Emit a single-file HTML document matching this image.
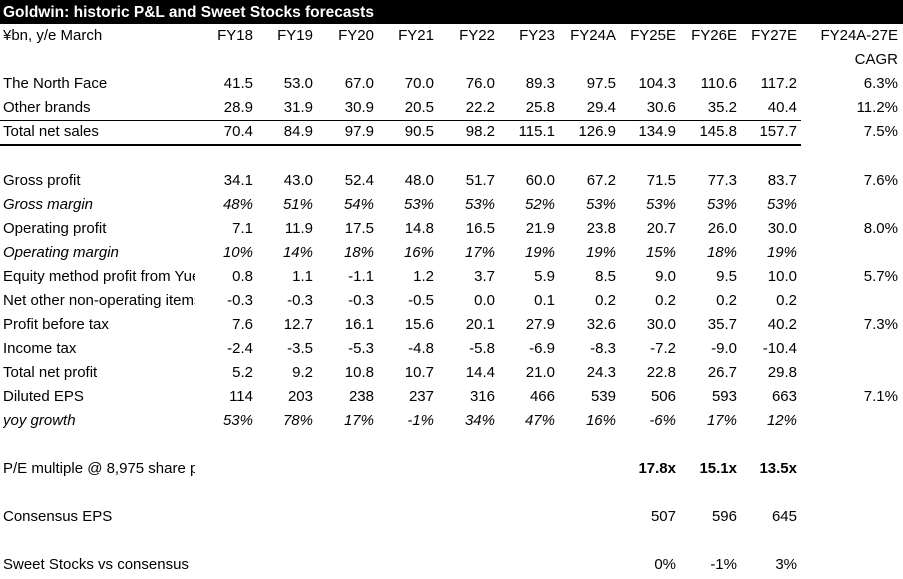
<!DOCTYPE html>
<html><head><meta charset="utf-8">
<style>
body{margin:0;width:903px;height:579px;background:#fff;font-family:"Liberation Sans",sans-serif;font-size:15px;color:#000;position:relative;overflow:hidden}
#title{position:absolute;left:0;top:0;width:903px;height:24px;background:#000;color:#fff;font-weight:bold;font-size:15.5px;line-height:25px;padding-left:3px;box-sizing:border-box}
.c{position:absolute;white-space:nowrap;line-height:18px}
.lab{left:3px;width:192px;overflow:hidden}
.it{font-style:italic}
.b{font-weight:bold}
.line{position:absolute;left:0;width:801px;background:#000}
</style></head><body>
<div id="title">Goldwin: historic P&amp;L and Sweet Stocks forecasts</div>
<div class="line" style="top:120px;height:1px"></div>
<div class="line" style="top:144px;height:2px"></div>
<div id="t"></div>
<script>
const colRight=[253,313,374,434,495,555,616,676,737,797,898];
const headers=["FY18","FY19","FY20","FY21","FY22","FY23","FY24A","FY25E","FY26E","FY27E","FY24A-27E"];
const rows=[
 [61,"","",[,,,,,,,,,,"CAGR"]],
 [85,"The North Face","",["41.5","53.0","67.0","70.0","76.0","89.3","97.5","104.3","110.6","117.2","6.3%"]],
 [109,"Other brands","",["28.9","31.9","30.9","20.5","22.2","25.8","29.4","30.6","35.2","40.4","11.2%"]],
 [133,"Total net sales","",["70.4","84.9","97.9","90.5","98.2","115.1","126.9","134.9","145.8","157.7","7.5%"]],
 [182,"Gross profit","",["34.1","43.0","52.4","48.0","51.7","60.0","67.2","71.5","77.3","83.7","7.6%"]],
 [206,"Gross margin","it",["48%","51%","54%","53%","53%","52%","53%","53%","53%","53%",""]],
 [230,"Operating profit","",["7.1","11.9","17.5","14.8","16.5","21.9","23.8","20.7","26.0","30.0","8.0%"]],
 [254,"Operating margin","it",["10%","14%","18%","16%","17%","19%","19%","15%","18%","19%",""]],
 [278,"Equity method profit from Yue Yuen","",["0.8","1.1","-1.1","1.2","3.7","5.9","8.5","9.0","9.5","10.0","5.7%"]],
 [302,"Net other non-operating items","",["-0.3","-0.3","-0.3","-0.5","0.0","0.1","0.2","0.2","0.2","0.2",""]],
 [326,"Profit before tax","",["7.6","12.7","16.1","15.6","20.1","27.9","32.6","30.0","35.7","40.2","7.3%"]],
 [350,"Income tax","",["-2.4","-3.5","-5.3","-4.8","-5.8","-6.9","-8.3","-7.2","-9.0","-10.4",""]],
 [374,"Total net profit","",["5.2","9.2","10.8","10.7","14.4","21.0","24.3","22.8","26.7","29.8",""]],
 [398,"Diluted EPS","",["114","203","238","237","316","466","539","506","593","663","7.1%"]],
 [422,"yoy growth","it",["53%","78%","17%","-1%","34%","47%","16%","-6%","17%","12%",""]],
 [470,"P/E multiple @ 8,975 share price","b",[,,,,,,,"17.8x","15.1x","13.5x",""]],
 [518,"Consensus EPS","",[,,,,,,,"507","596","645",""]],
 [566,"Sweet Stocks vs consensus","",[,,,,,,,"0%","-1%","3%",""]]
];
const t=document.getElementById('t');
function cell(txt,top,right,cls){
 const d=document.createElement('div');
 d.className='c '+(cls||'');
 d.style.top=(top-10)+'px';
 d.style.right=(903-right)+'px';
 d.textContent=txt;
 
 
 t.appendChild(d);
}
// header
const h=document.createElement('div');
h.className='c lab';h.style.top='27px';h.textContent='¥bn, y/e March';


t.appendChild(h);
headers.forEach((x,i)=>{
 const d=document.createElement('div');
 d.className='c';d.style.top='27px';d.style.right=(903-colRight[i])+'px';d.textContent=x;
 
 
 t.appendChild(d);
});
rows.forEach(r=>{
 const [y,label,cls,vals]=r;
 if(label){
  const l=document.createElement('div');
  l.className='c lab '+(cls==='it'?'it':'');
  l.style.top=(y-10)+'px';
  if(cls==='b') l.style.width='300px';
  if(label.length>28) l.style.width='192px';
  l.textContent=label;
  
  
  t.appendChild(l);
 }
 for(let i=0;i<11;i++){ if(vals[i]) cell(vals[i],y,colRight[i],cls); }
});
</script>
</body></html>
